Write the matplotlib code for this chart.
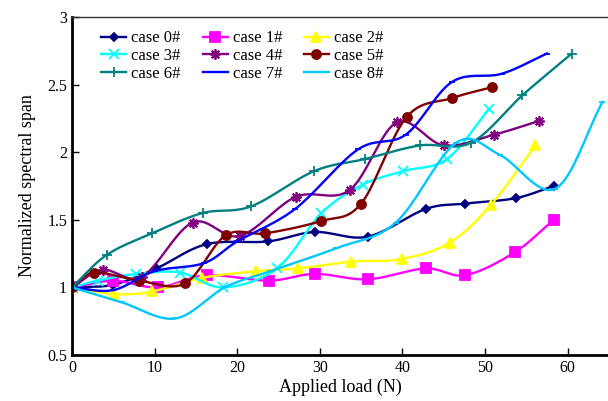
import matplotlib
matplotlib.use("Agg")
import matplotlib.pyplot as plt
import numpy as np

plt.rcParams['font.family'] = ['Liberation Serif', 'DejaVu Serif']

# values
x0 = [0, 5, 10.2, 16.3, 23.7, 29.4, 35.8, 42.8, 47.6, 53.7, 58.3]
y0 = [1, 1.02, 1.14, 1.32, 1.34, 1.41, 1.375, 1.58, 1.62, 1.66, 1.75]
x1 = [0, 5, 10.4, 16.3, 23.8, 29.4, 35.8, 42.8, 47.6, 53.6, 58.3]
y1 = [1, 1.05, 1.0, 1.09, 1.05, 1.10, 1.06, 1.14, 1.09, 1.26, 1.50]
x2 = [0, 5.1, 9.7, 15.7, 22.3, 27.4, 33.8, 39.9, 45.7, 50.7, 56.1]
y2 = [1, 0.95, 0.97, 1.07, 1.12, 1.14, 1.19, 1.21, 1.33, 1.61, 2.05]
x3 = [0, 3.1, 7.8, 13.1, 18.3, 24.8, 30.2, 35.2, 40.1, 45.4, 50.5]
y3 = [1, 1.05, 1.10, 1.11, 1.0, 1.14, 1.55, 1.76, 1.86, 1.95, 2.32]
x4 = [0, 3.7, 8.5, 14.6, 20.3, 27.1, 33.6, 39.3, 45, 51.1, 56.5]
y4 = [1, 1.13, 1.08, 1.48, 1.38, 1.67, 1.72, 2.22, 2.05, 2.13, 2.23]
x5 = [0, 2.7, 8.1, 13.7, 18.6, 23.4, 30.1, 35, 40.5, 46, 50.8]
y5 = [1, 1.11, 1.05, 1.03, 1.385, 1.40, 1.49, 1.62, 2.26, 2.40, 2.48]
x6 = [0, 4.2, 9.7, 15.8, 21.7, 29.3, 35.5, 42.1, 48.3, 54.5, 60.5]
y6 = [1, 1.24, 1.40, 1.55, 1.60, 1.86, 1.95, 2.05, 2.07, 2.42, 2.73]
x7 = [0, 5, 10, 16, 20, 27, 34.6, 40.4, 46, 52, 57.5]
y7 = [1, 0.98, 1.12, 1.18, 1.34, 1.58, 2.02, 2.13, 2.52, 2.58, 2.73]
x8 = [0, 6, 12.5, 18.5, 24, 32, 39.2, 46.5, 51.8, 58.5, 64.2]
y8 = [1, 0.89, 0.77, 1.0, 1.12, 1.29, 1.48, 2.07, 1.98, 1.73, 2.37]

labels = ["case 0#", "case 1#", "case 2#", "case 3#", "case 4#",
          "case 5#", "case 6#", "case 7#", "case 8#"]
xticks = [0, 10, 20, 30, 40, 50, 60]
yticks = [0.5, 1, 1.5, 2, 2.5, 3]
yticklabels = ["0.5", "1", "1.5", "2", "2.5", "3"]

series = [(x0, y0), (x1, y1), (x2, y2), (x3, y3), (x4, y4),
          (x5, y5), (x6, y6), (x7, y7), (x8, y8)]
colors = ['#000080', '#FF00FF', '#FFFF00', '#00FFFF', '#800080',
          '#800000', '#008080', '#0000FF', '#00C8FF']
markers = ['D', 's', '^', 'x', (8, 2, 0), 'o', '+', '_', '_']
msizes = [4.5, 6.5, 6.5, 6.5, 7.5, 6.5, 7.5, 4, 5]

N = 20


def smooth(x, y, n=N):
    # catmull-rom curve through the points, just for drawing the line
    p = np.column_stack([x, y]).astype(float)
    p = np.vstack([2*p[0]-p[1], p, 2*p[-1]-p[-2]])
    t = np.linspace(0, 1, n, endpoint=False)[:, None]
    out = []
    for i in range(1, len(p)-2):
        a, b, c, d = p[i-1], p[i], p[i+1], p[i+2]
        seg = 0.5*((2*b) + (-a+c)*t + (2*a-5*b+4*c-d)*t**2
                   + (-a+3*b-3*c+d)*t**3)
        out.append(seg)
    out.append(p[-2][None])
    return np.vstack(out)


fig = plt.figure(figsize=(6.08, 4.01), dpi=100)
ax = fig.add_axes([72/608, 46/401, 537/608, 338/401])

lines = []
for (xs, ys), lab, col, mk, ms in zip(series, labels, colors, markers, msizes):
    c = smooth(xs, ys)
    ln, = ax.plot(c[:, 0], c[:, 1], color=col, lw=1.7, marker=mk, ms=ms,
                  mew=1.3, markevery=[i*N for i in range(len(xs))], label=lab)
    lines.append(ln)

ax.set_xlim(0, 65)
ax.set_ylim(0.5, 3)
ax.set_xticks(xticks)
ax.set_yticks(yticks)
ax.set_yticklabels(yticklabels)
ax.tick_params(direction='in', length=5, width=1, labelsize=11.5,
               top=False, right=False)
ax.spines['left'].set_linewidth(2)
ax.spines['bottom'].set_linewidth(2)
ax.spines['top'].set_linewidth(1)
ax.spines['top'].set_color('#333333')
ax.spines['right'].set_visible(False)

ax.set_xlabel("Applied load (N)", fontsize=13, labelpad=2)
ax.set_ylabel("Normalized spectral span", fontsize=13, labelpad=8)

# legend fills column by column, reorder so rows read 0,1,2 / 3,4,5 / 6,7,8
order = [0, 3, 6, 1, 4, 7, 2, 5, 8]
ax.legend([lines[i] for i in order], [labels[i] for i in order],
          ncol=3, loc='upper left', frameon=False, fontsize=12,
          handlelength=1.5, columnspacing=1.3, handletextpad=0.3,
          labelspacing=0.1, borderaxespad=0.4, bbox_to_anchor=(0.03, 1.0))

fig.savefig("out.png", dpi=100)
